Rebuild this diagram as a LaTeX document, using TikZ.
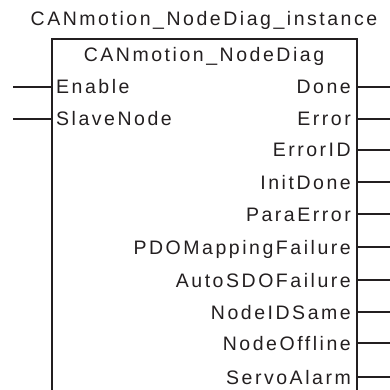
\documentclass[tikz,border=0pt]{standalone}
\usepackage{fontspec}
\setmainfont[LetterSpace=13]{Liberation Sans}
\definecolor{ink}{HTML}{231F20}
\begin{document}
\begin{tikzpicture}[x=1pt,y=-1pt,
  lbl/.style={inner sep=0pt,text=ink,font=\fontsize{19.5}{23}\selectfont},
  pin/.style={line width=1.1pt,draw=ink},
  boxline/.style={line width=1.4pt,draw=ink}]
\useasboundingbox (0,0) rectangle (390,390);
\begin{scope}
\clip (0,0) rectangle (390,390);
\draw[boxline] (52,400) -- (52,39) -- (357,39) -- (357,400);
\end{scope}
\node[lbl,anchor=base] (title) at (204,26) {CANmotion\_NodeDiag\_instance};
\node[lbl,anchor=base] (hdr) at (204,62) {CANmotion\_NodeDiag};
\foreach \name/\txt/\y in {in1/Enable/87, in2/SlaveNode/119}{
  \coordinate (\name p) at (52,\y);
  \coordinate (\name e) at (13,\y);
  \node[lbl,anchor=base west] (\name) at (56,\y+7) {\txt};
  \draw[pin] (\name e) -- (\name p);
}
\foreach \name/\txt/\y in {o1/Done/87, o2/Error/119, o3/ErrorID/150, o4/InitDone/182, o5/ParaError/214, o6/PDOMappingFailure/247, o7/AutoSDOFailure/280, o8/NodeIDSame/312, o9/NodeOffline/343, o10/ServoAlarm/377}{
  \coordinate (\name p) at (357,\y);
  \coordinate (\name e) at (390,\y);
  \node[lbl,anchor=base east] (\name) at (351,\y+7) {\txt};
  \draw[pin] (\name p) -- (\name e);
}
\end{tikzpicture}
\end{document}
